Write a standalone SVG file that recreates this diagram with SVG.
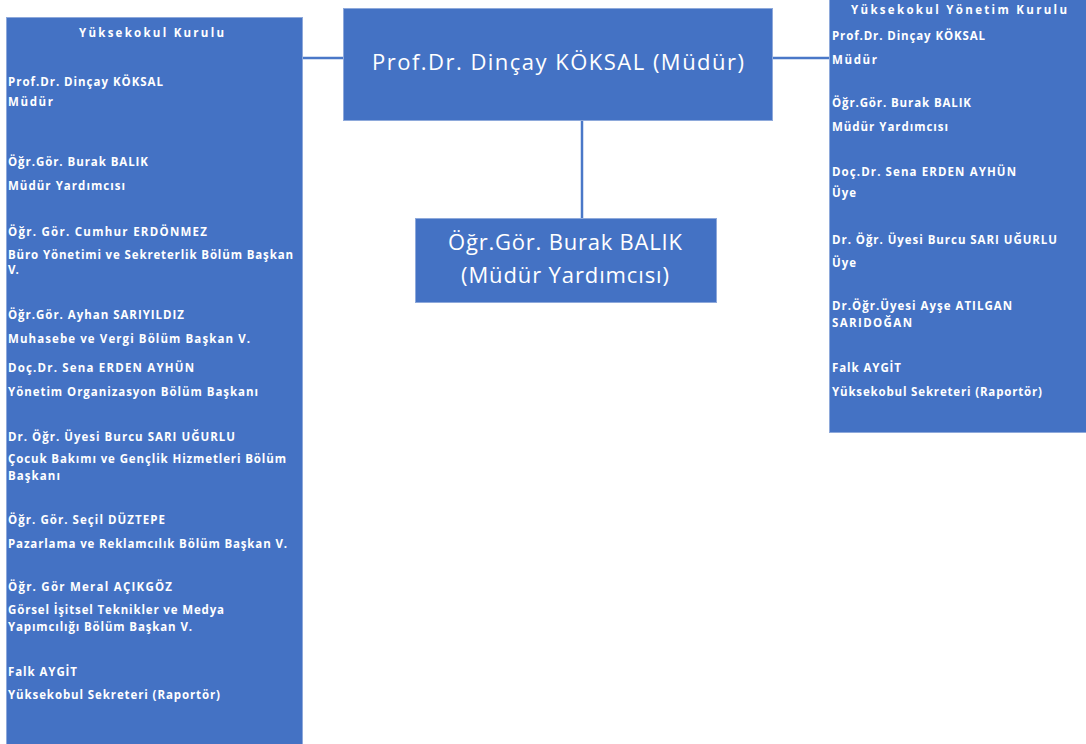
<svg xmlns="http://www.w3.org/2000/svg" width="1086" height="744" viewBox="0 0 1086 744">
<style>
.box{fill:#4472C4;stroke:#8EA9DB;stroke-width:1}
.conn{stroke:#4A78C8;stroke-width:2.5;fill:none}
.s{font-family:"Open Sans","Noto Sans",sans-serif;font-weight:bold;font-size:11.5px;fill:#FFFFFF}
.b{font-family:"Open Sans","Noto Sans",sans-serif;font-size:22px;fill:#FFFFFF}
</style>
<rect width="1086" height="744" fill="#FFFFFF"/>
<g id="connectors">
<line class="conn" x1="303" y1="58" x2="343" y2="58"/>
<line class="conn" x1="773" y1="58" x2="829" y2="58"/>
<line class="conn" x1="582" y1="121" x2="582" y2="218"/>
</g>
<g id="mudur">
<rect class="box" x="343.5" y="8.5" width="429" height="112"/>
<text class="b" x="372" y="70" textLength="372" lengthAdjust="spacing">Prof.Dr. Dinçay KÖKSAL (Müdür)</text>
</g>
<g id="mudur-yardimcisi">
<rect class="box" x="415.5" y="218.5" width="301" height="84"/>
<text class="b" x="448" y="250" textLength="234" lengthAdjust="spacing">Öğr.Gör. Burak BALIK</text>
<text class="b" x="461" y="283" textLength="208" lengthAdjust="spacing">(Müdür Yardımcısı)</text>
</g>
<g id="yuksekokul-kurulu">
<rect class="box" x="6.5" y="17.5" width="296" height="730"/>
<text class="s" x="79" y="37" textLength="145" lengthAdjust="spacing">Yüksekokul Kurulu</text>
<text class="s" x="8" y="86" textLength="155" lengthAdjust="spacing">Prof.Dr. Dinçay KÖKSAL</text>
<text class="s" x="8" y="106" textLength="45" lengthAdjust="spacing">Müdür</text>
<text class="s" x="8" y="166" textLength="140" lengthAdjust="spacing">Öğr.Gör. Burak BALIK</text>
<text class="s" x="8" y="190" textLength="117" lengthAdjust="spacing">Müdür Yardımcısı</text>
<text class="s" x="8" y="236" textLength="199" lengthAdjust="spacing">Öğr. Gör. Cumhur ERDÖNMEZ</text>
<text class="s" x="8" y="259" textLength="285" lengthAdjust="spacing">Büro Yönetimi ve Sekreterlik Bölüm Başkan</text>
<text class="s" x="8" y="274">V.</text>
<text class="s" x="8" y="319" textLength="176" lengthAdjust="spacing">Öğr.Gör. Ayhan SARIYILDIZ</text>
<text class="s" x="8" y="343" textLength="242" lengthAdjust="spacing">Muhasebe ve Vergi Bölüm Başkan V.</text>
<text class="s" x="8" y="372" textLength="186" lengthAdjust="spacing">Doç.Dr. Sena ERDEN AYHÜN</text>
<text class="s" x="8" y="396" textLength="250" lengthAdjust="spacing">Yönetim Organizasyon Bölüm Başkanı</text>
<text class="s" x="8" y="441" textLength="227" lengthAdjust="spacing">Dr. Öğr. Üyesi Burcu SARI UĞURLU</text>
<text class="s" x="8" y="463" textLength="278" lengthAdjust="spacing">Çocuk Bakımı ve Gençlik Hizmetleri Bölüm</text>
<text class="s" x="8" y="480" textLength="52" lengthAdjust="spacing">Başkanı</text>
<text class="s" x="8" y="524" textLength="157" lengthAdjust="spacing">Öğr. Gör. Seçil DÜZTEPE</text>
<text class="s" x="8" y="548" textLength="279" lengthAdjust="spacing">Pazarlama ve Reklamcılık Bölüm Başkan V.</text>
<text class="s" x="8" y="591" textLength="164" lengthAdjust="spacing">Öğr. Gör Meral AÇIKGÖZ</text>
<text class="s" x="8" y="614" textLength="216" lengthAdjust="spacing">Görsel İşitsel Teknikler ve Medya</text>
<text class="s" x="8" y="631" textLength="184" lengthAdjust="spacing">Yapımcılığı Bölüm Başkan V.</text>
<text class="s" x="8" y="676" textLength="69" lengthAdjust="spacing">Falk AYGİT</text>
<text class="s" x="8" y="699" textLength="212" lengthAdjust="spacing">Yüksekobul Sekreteri (Raportör)</text>
</g>
<g id="yuksekokul-yonetim-kurulu">
<rect class="box" x="829.5" y="-1" width="260" height="433.5"/>
<text class="s" x="851" y="14" textLength="216" lengthAdjust="spacing">Yüksekokul Yönetim Kurulu</text>
<text class="s" x="832" y="40" textLength="153" lengthAdjust="spacing">Prof.Dr. Dinçay KÖKSAL</text>
<text class="s" x="832" y="64" textLength="45" lengthAdjust="spacing">Müdür</text>
<text class="s" x="832" y="107" textLength="139" lengthAdjust="spacing">Öğr.Gör. Burak BALIK</text>
<text class="s" x="832" y="131" textLength="116" lengthAdjust="spacing">Müdür Yardımcısı</text>
<text class="s" x="832" y="176" textLength="184" lengthAdjust="spacing">Doç.Dr. Sena ERDEN AYHÜN</text>
<text class="s" x="832" y="197" textLength="24" lengthAdjust="spacing">Üye</text>
<text class="s" x="832" y="244" textLength="225" lengthAdjust="spacing">Dr. Öğr. Üyesi Burcu SARI UĞURLU</text>
<text class="s" x="832" y="267" textLength="24" lengthAdjust="spacing">Üye</text>
<text class="s" x="832" y="310" textLength="180" lengthAdjust="spacing">Dr.Öğr.Üyesi Ayşe ATILGAN</text>
<text class="s" x="832" y="327" textLength="80" lengthAdjust="spacing">SARIDOĞAN</text>
<text class="s" x="832" y="372" textLength="69" lengthAdjust="spacing">Falk AYGİT</text>
<text class="s" x="832" y="396" textLength="210" lengthAdjust="spacing">Yüksekobul Sekreteri (Raportör)</text>
</g>
</svg>
